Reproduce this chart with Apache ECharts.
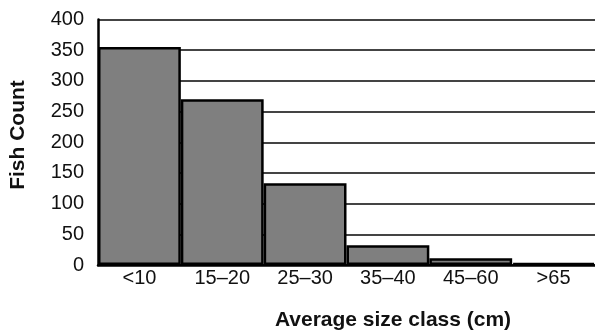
<!DOCTYPE html>
<html>
<head>
<meta charset="utf-8">
<script src="https://cdn.jsdelivr.net/npm/echarts@6/dist/echarts.min.js"></script>
<style>
html,body{margin:0;padding:0;background:#fff;}
#chart{width:595px;height:336px;}
</style>
</head>
<body>
<div id="chart"></div>
<script>
var categories = ['<10', '15–20', '25–30', '35–40', '45–60', '>65'];
var fishCount = [355, 270, 133, 32, 11, 3];
var yTicks = { min: 0, max: 400, interval: 50 };
var xTitle = 'Average size class (cm)';
var yTitle = 'Fish Count';

var chart = echarts.init(document.getElementById('chart'), null, { renderer: 'canvas' });
chart.setOption({
  animation: false,
  backgroundColor: '#fff',
  grid: { left: 98, right: -2, top: 19.5, bottom: 71, containLabel: false },
  xAxis: {
    type: 'category',
    data: categories,
    axisLine: { show: true, lineStyle: { color: '#000', width: 2.5 } },
    axisTick: { show: false },
    axisLabel: { color: '#111', fontFamily: 'Liberation Sans, Arial, sans-serif', fontSize: 20, margin: 3 },
    splitLine: { show: false }
  },
  yAxis: {
    type: 'value',
    min: yTicks.min, max: yTicks.max, interval: yTicks.interval,
    axisLine: { show: true, lineStyle: { color: '#000', width: 2.5 } },
    axisTick: { show: false },
    axisLabel: { color: '#111', fontFamily: 'Liberation Sans, Arial, sans-serif', fontSize: 20, margin: 14 },
    splitLine: { show: true, lineStyle: { color: '#444', width: 1.8 } }
  },
  graphic: [
    {
      type: 'text', x: 18, y: 135, rotation: Math.PI / 2,
      style: { text: yTitle, fill: '#111', font: 'bold 21px "Liberation Sans", Arial, sans-serif', textAlign: 'center', textVerticalAlign: 'middle' }
    },
    {
      type: 'text', x: 393, y: 320,
      style: { text: xTitle, fill: '#111', font: 'bold 21px "Liberation Sans", Arial, sans-serif', textAlign: 'center', textVerticalAlign: 'middle' }
    }
  ],
  series: [{
    type: 'bar',
    data: fishCount,
    barCategoryGap: 0,
    itemStyle: { color: '#7f7f7f', borderColor: '#000', borderWidth: 2.5 }
  }]
});
</script>
</body>
</html>
